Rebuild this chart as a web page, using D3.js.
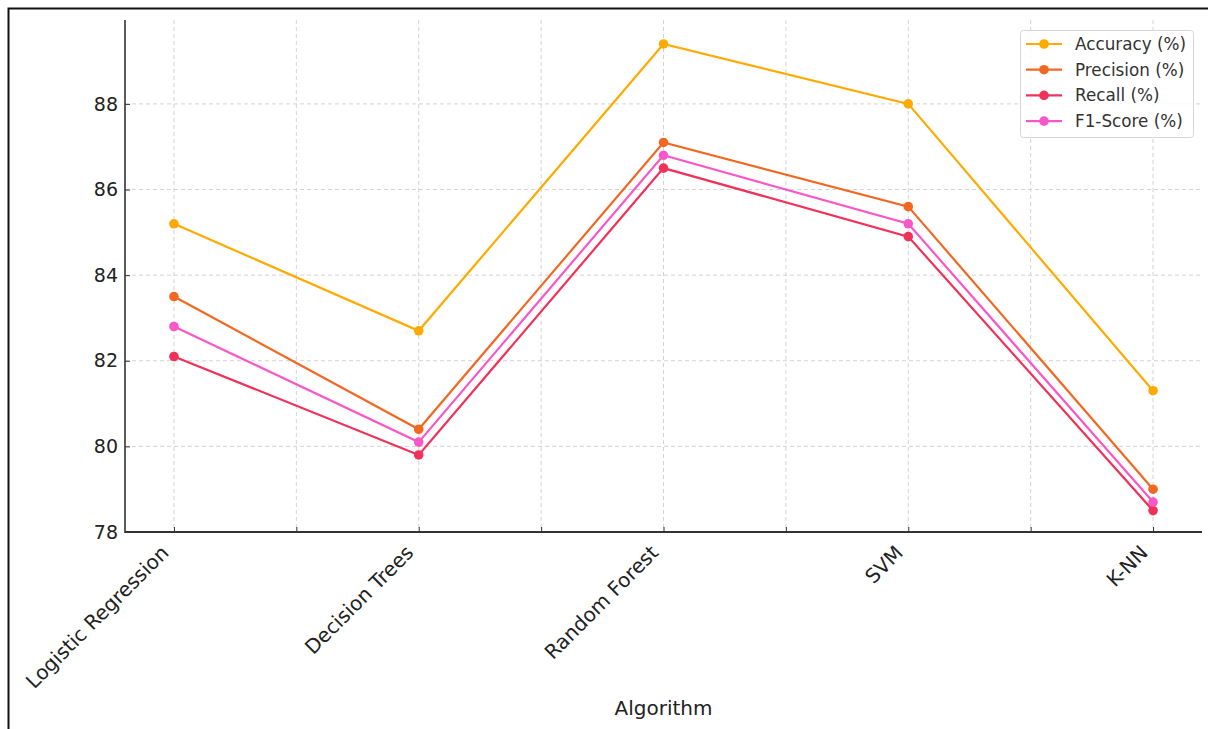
<!DOCTYPE html>
<html><head><meta charset="utf-8">
<script src="https://cdn.jsdelivr.net/npm/d3@7"></script>
<style>body{margin:0;background:#fff}svg{display:block;font-family:"DejaVu Sans",sans-serif}</style>
</head><body><svg id="c" width="1208" height="729"></svg>
<script>
const categories = ["Logistic Regression","Decision Trees","Random Forest","SVM","K-NN"];
const accuracy  = [85.2, 82.7, 89.4, 88.0, 81.3];
const precision = [83.5, 80.4, 87.1, 85.6, 79.0];
const recall    = [82.1, 79.8, 86.5, 84.9, 78.5];
const f1score   = [82.8, 80.1, 86.8, 85.2, 78.7];
const seriesNames = ["Accuracy (%)","Precision (%)","Recall (%)","F1-Score (%)"];
const yTicks = [78, 80, 82, 84, 86, 88];
const xLabel = "Algorithm";

const seriesValues = [accuracy, precision, recall, f1score];
const colors = ["#FFAA00","#F26822","#F0315A","#F857C8"];

const svg = d3.select("#c");
const L = 125, R = 1202, T = 20, B = 532;

// outer frame
svg.append("rect").attr("x",8.5).attr("y",8.5).attr("width",1208).attr("height",740)
  .attr("fill","none").attr("stroke","#111").attr("stroke-width",2);

const x = d3.scaleLinear().domain([-0.2, 4.2]).range([L, R]);
const y = d3.scaleLinear().domain([78, 89.96]).range([B, T]);

const g = svg.append("g");
// grid
const xGrid = d3.range(0, 4.01, 0.5);
g.selectAll(".vg").data(xGrid).enter().append("line")
  .attr("x1",d=>x(d)).attr("x2",d=>x(d)).attr("y1",T).attr("y2",B)
  .attr("stroke","#c8c8c8").attr("stroke-width",0.8).attr("stroke-dasharray","4,3");
g.selectAll(".hg").data(yTicks).enter().append("line")
  .attr("x1",L).attr("x2",R).attr("y1",d=>y(d)).attr("y2",d=>y(d))
  .attr("stroke","#c8c8c8").attr("stroke-width",0.8).attr("stroke-dasharray","4,3");

// axes
const yAxis = d3.axisLeft(y).tickValues(yTicks).tickSize(-5).tickPadding(7).tickFormat(d3.format("d"));
const ya = svg.append("g").attr("transform",`translate(${L},0)`).call(yAxis);
ya.select(".domain").remove();
ya.selectAll("text").attr("font-size",19).attr("fill","#222").attr("font-family","DejaVu Sans");
ya.selectAll("line").attr("stroke","#333");
svg.append("line").attr("x1",L).attr("x2",L).attr("y1",T).attr("y2",B+1).attr("stroke","#333").attr("stroke-width",1.6);

const xAxis = d3.axisBottom(x).tickValues(xGrid).tickSize(-5).tickFormat("");
const xa = svg.append("g").attr("transform",`translate(0,${B})`).call(xAxis);
xa.select(".domain").remove();
xa.selectAll("line").attr("stroke","#333");
svg.append("line").attr("x1",L).attr("x2",R).attr("y1",B).attr("y2",B).attr("stroke","#333").attr("stroke-width",2);

// x labels
svg.selectAll(".xl").data(categories).enter().append("text")
  .attr("transform",(d,i)=>`translate(${x(i)-4},${B+22}) rotate(-45)`)
  .attr("text-anchor","end")
  .attr("font-size",20).attr("fill","#222").text(d=>d);

svg.append("text").attr("x",(L+R)/2).attr("y",715).attr("text-anchor","middle")
  .attr("font-size",20).attr("fill","#222").text(xLabel);

// lines
const line = d3.line().x((d,i)=>x(i)).y(d=>y(d));
seriesValues.forEach((vals,k)=>{
  svg.append("path").datum(vals).attr("d",line).attr("fill","none")
    .attr("stroke",colors[k]).attr("stroke-width",2.2);
  svg.selectAll(".m"+k).data(vals).enter().append("circle")
    .attr("cx",(d,i)=>x(i)).attr("cy",d=>y(d)).attr("r",4.8).attr("fill",colors[k]);
});

// legend
const lg = svg.append("g");
lg.append("rect").attr("x",1020.5).attr("y",30.5).attr("width",173).attr("height",107).attr("rx",3)
  .attr("fill","rgba(255,255,255,0.8)").attr("stroke","#d6d6d6");
seriesNames.forEach((n,k)=>{
  const yy = 44 + k*25.7;
  lg.append("line").attr("x1",1026).attr("x2",1062).attr("y1",yy).attr("y2",yy)
    .attr("stroke",colors[k]).attr("stroke-width",2.2);
  lg.append("circle").attr("cx",1044).attr("cy",yy).attr("r",4.8).attr("fill",colors[k]);
  lg.append("text").attr("x",1075).attr("y",yy).attr("dy","0.35em")
    .attr("font-size",16.8).attr("fill","#333").text(n);
});
</script></body></html>
